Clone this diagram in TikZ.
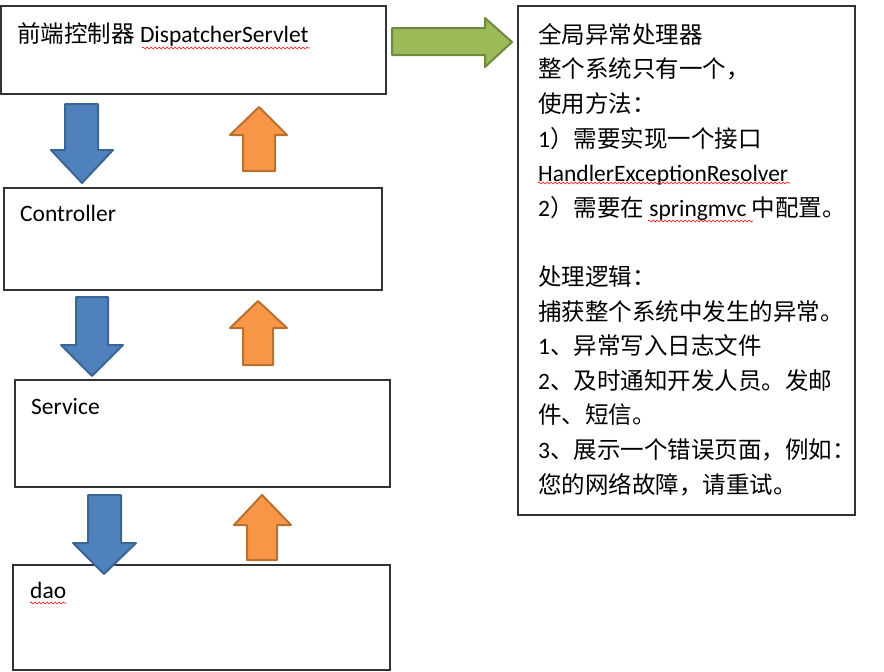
\documentclass[tikz,border=0pt]{standalone}
\usepackage{fontspec}
\setmainfont{Carlito}
\newfontfamily\cjk{Noto Sans CJK SC}
\usetikzlibrary{decorations.pathmorphing}

\definecolor{downfill}{HTML}{4F81BD}
\definecolor{downline}{HTML}{3A6595}
\definecolor{upfill}{HTML}{F79646}
\definecolor{upline}{HTML}{B8702F}
\definecolor{rightfill}{HTML}{9BBB59}
\definecolor{rightline}{HTML}{71893F}

\tikzset{
    box/.style={draw=black!80, line width=1.2pt},
    downarrow/.style={fill=downfill, draw=downline, line width=2pt, line join=round},
    uparrow/.style={fill=upfill, draw=upline, line width=2pt, line join=round},
    rightarrow/.style={fill=rightfill, draw=rightline, line width=2pt, line join=round},
    boxtext/.style={anchor=base west, inner sep=0pt, font=\fontsize{23.5}{34.6}\selectfont},
    squiggle/.style={draw=red, line width=0.6pt, decorate,
        decoration={snake, amplitude=0.9pt, segment length=4pt}}
}

\begin{document}
\begin{tikzpicture}[x=1pt, y=-1pt]
\useasboundingbox (0,0) rectangle (884,672);

% Boxes
\draw[box] (1,6) rectangle (386,94);
\draw[box] (4,188) rectangle (382,290);
\draw[box] (15,380) rectangle (390,487);
\draw[box] (13,565) rectangle (390,670);
\draw[box] (518,6) rectangle (855,515);

% Box texts
\node[boxtext] (front) at (17,42) {{\cjk 前端控制器} DispatcherServlet};
\node[boxtext] (ctrl) at (20,221) {Controller};
\node[boxtext] (serv) at (31,414) {Service};
\node[boxtext] (dao) at (30,598) {dao};

% Handler text (base = last line)
\node[boxtext, align=left] (handler) at (538,493) {%
{\cjk 全局异常处理器}\\
{\cjk 整个系统只有一个，}\\
{\cjk 使用方法：}\\
1{\cjk ）需要实现一个接口}\\
HandlerExceptionResolver\\
2{\cjk ）需要在} springmvc {\cjk 中配置。}\\
\mbox{}\\
{\cjk 处理逻辑：}\\
{\cjk 捕获整个系统中发生的异常。}\\
1{\cjk 、异常写入日志文件}\\
2{\cjk 、及时通知开发人员。发邮}\\
{\cjk 件、短信。}\\
3{\cjk 、展示一个错误页面，例如：}\\
{\cjk 您的网络故障，请重试。}};

% Spelling marks
\draw[squiggle] (142,48) -- (310,48);
\draw[squiggle] (538,183) -- (790,183);
\draw[squiggle] (648,221) -- (753,221);
\draw[squiggle] (30,603) -- (66,603);

% Down arrows
\draw[downarrow] (65,104) -- (98,104) -- (98,150) -- (113,150) -- (82,183) -- (51,150) -- (65,150) -- cycle;
\draw[downarrow] (76,297) -- (108,297) -- (108,345) -- (123,345) -- (92,376) -- (61,345) -- (76,345) -- cycle;
\draw[downarrow] (88,495) -- (121,495) -- (121,543) -- (136,543) -- (104,574) -- (73,543) -- (88,543) -- cycle;

% Up arrows
\draw[uparrow] (243,171) -- (275,171) -- (275,135) -- (287,135) -- (259,107) -- (230,135) -- (243,135) -- cycle;
\draw[uparrow] (243,365) -- (273,365) -- (273,328) -- (287,328) -- (258,301) -- (230,328) -- (243,328) -- cycle;
\draw[uparrow] (247,560) -- (277,560) -- (277,525) -- (291,525) -- (262,495) -- (234,525) -- (247,525) -- cycle;

% Right arrow
\draw[rightarrow] (392,28) -- (485,28) -- (485,18) -- (512,42) -- (485,67) -- (485,55) -- (392,55) -- cycle;

\end{tikzpicture}
\end{document}
